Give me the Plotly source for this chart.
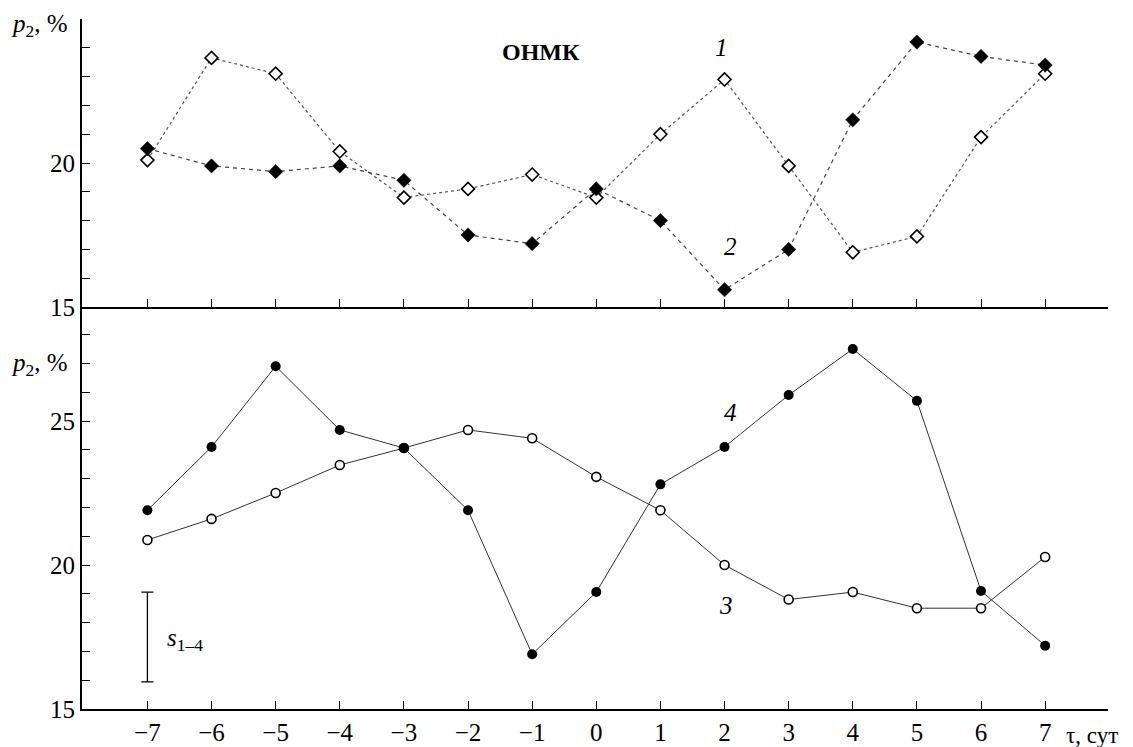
import plotly.graph_objects as go

# ---- data ----
days = [-7, -6, -5, -4, -3, -2, -1, 0, 1, 2, 3, 4, 5, 6, 7]
series1 = [20.1, 23.65, 23.1, 20.4, 18.8, 19.1, 19.6, 18.8, 21.0, 22.9, 19.9, 16.9, 17.45, 20.9, 23.1]
series2 = [20.5, 19.9, 19.7, 19.9, 19.4, 17.5, 17.2, 19.1, 18.0, 15.6, 17.0, 21.5, 24.2, 23.7, 23.4]
series3 = [20.87, 21.6, 22.5, 23.47, 24.06, 24.69, 24.4, 23.06, 21.9, 20.0, 18.8, 19.06, 18.5, 18.5, 20.28]
series4 = [21.9, 24.1, 26.9, 24.69, 24.06, 21.9, 16.9, 19.06, 22.8, 24.1, 25.9, 27.5, 25.7, 19.1, 17.2]
err_x = [-7]
err_center = [17.5]
err_half = [1.56]
x_tick_vals = days
x_tick_text = ["\u2212" + str(-d) if d < 0 else str(d) for d in days]
top_y_vals = [15, 20]
top_y_text = ["15", "20"]
bot_y_vals = [15, 20, 25]
bot_y_text = ["15", "20", "25"]

FONT = "Liberation Serif"

fig = go.Figure()

fig.add_trace(go.Scatter(x=days, y=series1, mode="lines+markers", xaxis="x", yaxis="y",
                         line=dict(color="#555555", width=1.2, dash="dot"),
                         marker=dict(symbol="diamond", size=10, color="white",
                                     line=dict(color="black", width=1.6))))
fig.add_trace(go.Scatter(x=days, y=series2, mode="lines+markers", xaxis="x", yaxis="y",
                         line=dict(color="#444444", width=1.2, dash="4px,4px"),
                         marker=dict(symbol="diamond", size=11, color="black",
                                     line=dict(color="black", width=0.5))))
fig.add_trace(go.Scatter(x=days, y=series3, mode="lines+markers", xaxis="x2", yaxis="y2",
                         line=dict(color="#333333", width=1),
                         marker=dict(symbol="circle", size=9, color="white",
                                     line=dict(color="black", width=1.6))))
fig.add_trace(go.Scatter(x=days, y=series4, mode="lines+markers", xaxis="x2", yaxis="y2",
                         line=dict(color="#333333", width=1),
                         marker=dict(symbol="circle", size=10, color="black")))
fig.add_trace(go.Scatter(x=err_x, y=err_center, mode="markers", xaxis="x2", yaxis="y2",
                         marker=dict(size=1, color="rgba(0,0,0,0)"),
                         error_y=dict(type="data", array=err_half, visible=True,
                                      color="black", thickness=1.3, width=6)))

tickfont = dict(family=FONT, size=25, color="black")
xcommon = dict(range=[-8.02, 7.98], tickvals=x_tick_vals, showline=True, linecolor="black",
               linewidth=1.5, ticks="inside", ticklen=8, tickwidth=1.2, tickcolor="black",
               showgrid=False, zeroline=False, mirror=False, automargin=False)
ycommon = dict(showline=True, linecolor="black", linewidth=2.2, ticks="inside", ticklen=8,
               tickwidth=1.3, tickcolor="black", showgrid=False, zeroline=False,
               automargin=False, tickfont=tickfont,
               minor=dict(dtick=1, ticks="inside", ticklen=8, tickwidth=1.3,
                          tickcolor="black", showgrid=False))

dom_split = (709 - 307) / 690

fig.update_layout(
    width=1133, height=747,
    margin=dict(l=82, r=25, t=19, b=38),
    paper_bgcolor="white", plot_bgcolor="white",
    showlegend=False,
    font=dict(family=FONT, color="black"),
    xaxis=dict(**xcommon, anchor="y", domain=[0, 1], showticklabels=False),
    yaxis=dict(**ycommon, anchor="x", domain=[dom_split, 1], range=[15, 25],
               tickvals=top_y_vals, ticktext=top_y_text),
    xaxis2=dict(**xcommon, anchor="y2", domain=[0, 1], matches="x",
                ticktext=x_tick_text, tickfont=tickfont),
    yaxis2=dict(**ycommon, anchor="x2", domain=[0, dom_split], range=[15, 15 + 402 / 28.8],
                tickvals=bot_y_vals, ticktext=bot_y_text),
)

ann = []
def txt(x, y, text, xref, yref, size=24, xanchor="center", yanchor="middle"):
    ann.append(dict(x=x, y=y, xref=xref, yref=yref, text=text, showarrow=False,
                    font=dict(family=FONT, size=size, color="black"),
                    xanchor=xanchor, yanchor=yanchor))

txt(-0.0117, (709 - 26) / 690, "<i>p</i><sub>2</sub>, %", "paper", "paper", size=25, xanchor="right")
txt(-0.0117, (709 - 364) / 690, "<i>p</i><sub>2</sub>, %", "paper", "paper", size=25, xanchor="right")
txt(-0.86, 23.85, "<b>ОНМК</b>", "x", "y", size=24)
txt(1.95, 24.0, "<i>1</i>", "x", "y", size=25)
txt(2.1, 17.1, "<i>2</i>", "x", "y", size=25)
txt(2.1, 25.28, "<i>4</i>", "x2", "y2", size=25)
txt(2.03, 18.6, "<i>3</i>", "x2", "y2", size=25)
txt(-6.72, 17.4, "<i>s</i><sub>1–4</sub>", "x2", "y2", size=25, xanchor="left")
txt(7.3, (709 - 735) / 690, "τ, сут", "x2", "paper", size=23, xanchor="left")
fig.update_layout(annotations=ann)

fig.write_html("out.html")
